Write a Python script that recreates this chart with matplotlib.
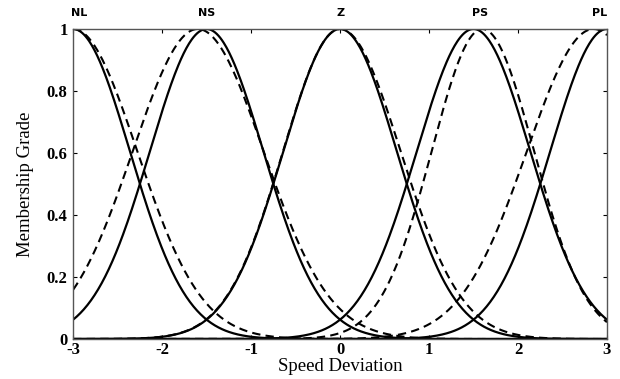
import numpy as np
import matplotlib
matplotlib.use("Agg")
import matplotlib.pyplot as plt

# membership function labels and their positions along the top
labels = ["NL", "NS", "Z", "PS", "PL"]
label_pos = [-2.93, -1.5, 0.0, 1.57, 2.92]

# initial (solid) gaussian sets: center, sigma
init_centers = [-3.0, -1.5, 0.0, 1.5, 3.0]
init_sigmas = [0.637, 0.637, 0.637, 0.637, 0.637]

# tuned (dashed) sets: center, left sigma, right sigma
tuned_centers = [-3.0, -1.6, 0.0, 1.6, 2.85]
tuned_sig_left = [0.72, 0.73, 0.64, 0.57, 0.75]
tuned_sig_right = [0.72, 0.74, 0.68, 0.58, 0.75]

x = np.linspace(-3, 3, 600)


def gauss(x, c, s):
    return np.exp(-(x - c) ** 2 / (2 * s ** 2))


def gauss2(x, c, sl, sr):
    return np.where(x < c, gauss(x, c, sl), gauss(x, c, sr))


plt.rcParams['font.family'] = 'Liberation Serif'
fig = plt.figure(figsize=(6.2, 3.79), dpi=100)
ax = fig.add_axes([0.118, 0.1055, 0.861, 0.818])

for c, s in zip(init_centers, init_sigmas):
    ax.plot(x, gauss(x, c, s), color='black', lw=1.6)

for c, sl, sr in zip(tuned_centers, tuned_sig_left, tuned_sig_right):
    ax.plot(x, gauss2(x, c, sl, sr), color='black', lw=1.5, ls=(0, (4, 2.5)))

ax.set_xlim(-3, 3)
ax.set_ylim(0, 1)
ax.set_xticks([-3, -2, -1, 0, 1, 2, 3])
ax.set_xticklabels(['-3', '-2', '-1', '0', '1', '2', '3'], fontweight='bold', fontsize=12)
ax.set_yticks([0, 0.2, 0.4, 0.6, 0.8, 1])
ax.set_yticklabels(['0', '0.2', '0.4', '0.6', '0.8', '1'], fontweight='bold', fontsize=12)
ax.tick_params(direction='in', top=True, right=True, length=3, width=0.8, colors='black')
ax.tick_params(axis='x', pad=2)
ax.tick_params(axis='y', pad=4)
for sp in ax.spines.values():
    sp.set_color('#555555')
    sp.set_linewidth(1.0)

ax.set_xlabel('Speed Deviation', fontsize=13.5, labelpad=0)
ax.set_ylabel('Membership Grade', fontsize=13.5, labelpad=9)

for lab, p in zip(labels, label_pos):
    ax.text(p, 1.035, lab, ha='center', va='bottom', fontsize=8, fontweight='bold',
            family='DejaVu Sans', transform=ax.transData, clip_on=False)

fig.savefig('out.png', dpi=100)
